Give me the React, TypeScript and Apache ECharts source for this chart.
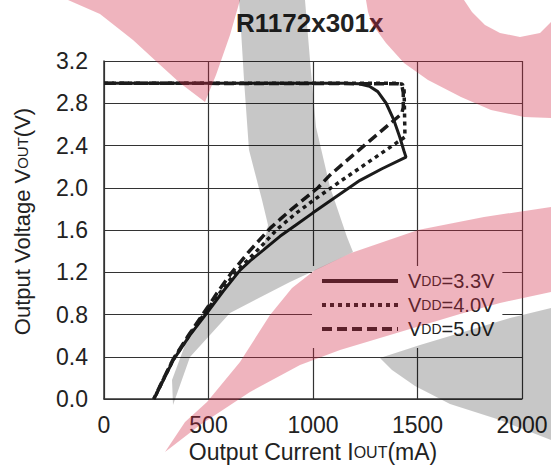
import React, { useEffect, useRef } from 'react';
import * as echarts from 'echarts';

const FONT = '"Liberation Sans", Arial, Helvetica, sans-serif';

const chartTitle = 'R1172x301x';
const xTickValues = [0, 500, 1000, 1500, 2000];
const yTickValues = [0, 0.4, 0.8, 1.2, 1.6, 2.0, 2.4, 2.8, 3.2];
const seriesNames = ['VDD=3.3V', 'VDD=4.0V', 'VDD=5.0V'];

// VDD = 3.3V (solid)
const current33 = [0, 1150, 1220, 1270, 1310, 1350, 1385, 1415, 1435, 1445, 1330, 1225, 1100, 998, 920, 842, 762, 700, 651, 570, 491, 411, 332, 284, 250, 238];
const volt33 = [2.99, 2.99, 2.985, 2.96, 2.91, 2.8, 2.65, 2.48, 2.35, 2.29, 2.18, 2.07, 1.9, 1.76, 1.65, 1.54, 1.41, 1.31, 1.22, 1.02, 0.81, 0.605, 0.37, 0.18, 0.045, 0];

// VDD = 4.0V (dotted)
const current40 = [0, 1400, 1428, 1436, 1438, 1440, 1300, 1145, 1015, 920, 830, 740, 630, 560, 500, 410, 332, 284, 250, 238];
const volt40 = [2.99, 2.99, 2.98, 2.92, 2.7, 2.48, 2.29, 2.08, 1.9, 1.76, 1.61, 1.42, 1.2, 1.02, 0.86, 0.61, 0.375, 0.185, 0.045, 0];

// VDD = 5.0V (dashed)
const current50 = [0, 1405, 1425, 1432, 1432, 1424, 1257, 1081, 1024, 900, 842, 797, 700, 612, 550, 500, 410, 332, 284, 250, 238];
const volt50 = [2.99, 2.985, 2.97, 2.9, 2.76, 2.7, 2.42, 2.12, 2.0, 1.8, 1.7, 1.62, 1.41, 1.2, 1.03, 0.88, 0.62, 0.38, 0.19, 0.05, 0];

const pair = (xs: number[], ys: number[]) => xs.map((x, i) => [x, ys[i]]);

const PINK = 'rgba(210,40,70,0.35)';
const GRAY = 'rgba(0,0,0,0.22)';

const watermark = [
  { fill: PINK, points: [[68, 0], [240, 0], [230, 35], [216, 75], [205, 102], [180, 83], [158, 63], [133, 40], [100, 14]] },
  { fill: PINK, points: [[366, 0], [464, 0], [472, 12], [485, 25], [500, 33], [520, 37], [540, 33], [551, 22], [551, 118], [524, 117], [491, 110], [461, 97], [428, 80], [404, 63], [386, 43], [372, 24], [368, 12]] },
  { fill: PINK, points: [[165, 452], [185, 422], [207, 402], [240, 362], [270, 315], [292, 288], [315, 270], [351, 253], [418, 230], [484, 217], [551, 207], [551, 292], [500, 303], [460, 314], [420, 326], [380, 338], [340, 350], [300, 365], [250, 392], [200, 425]] },
  { fill: GRAY, points: [[380, 358], [420, 345], [460, 333], [510, 318], [551, 308], [551, 440], [500, 420], [450, 404], [415, 386], [392, 370]] },
  { fill: GRAY, points: [[239, 0], [305, 0], [310, 60], [316, 127], [330, 187], [347, 237], [353, 252], [320, 268], [290, 282], [230, 313], [190, 357], [173, 405], [172, 380], [185, 345], [200, 317], [240, 270], [263, 250], [268, 225], [262, 200], [249, 150], [244, 80], [241, 30]] },
];

export default function App() {
  const ref = useRef<HTMLDivElement>(null);
  useEffect(() => {
    if (!ref.current) return;
    const chart = echarts.init(ref.current, undefined, { renderer: 'svg' });
    const axisLabelStyle = { color: '#222', fontFamily: FONT, fontSize: 23 };
    const richX = {
      m: { fontSize: 23, fontFamily: FONT, color: '#222' },
      s: { fontSize: 16, fontFamily: FONT, color: '#222' },
    };
    const richY = {
      m: { fontSize: 22, fontFamily: FONT, color: '#222' },
      s: { fontSize: 15, fontFamily: FONT, color: '#222' },
    };
    chart.setOption({
      animation: false,
      backgroundColor: '#ffffff',
      title: {
        text: chartTitle,
        left: 236,
        top: 10,
        padding: 0,
        textStyle: { fontFamily: FONT, fontSize: 26, fontWeight: 'bold', color: '#222' },
      },
      grid: { left: 104, right: 29, top: 61, bottom: 71, containLabel: false },
      legend: {
        orient: 'vertical',
        left: 312,
        top: 266,
        padding: [5, 8, 9, 8],
        backgroundColor: '#ffffff',
        itemWidth: 76,
        itemHeight: 12,
        itemGap: 4,
        itemStyle: { opacity: 0 },
        lineStyle: { width: 4 },
        data: seriesNames,
        formatter: (n: string) => `{a|V}{s|DD}{v|=${n.split('=')[1]}}`,
        textStyle: {
          color: '#222',
          fontFamily: FONT,
          fontSize: 20,
          rich: {
            a: { fontSize: 20, fontFamily: FONT, color: '#222', padding: [0, 0, 0, 5] },
            s: { fontSize: 14, fontFamily: FONT, color: '#222' },
            v: { fontSize: 20, fontFamily: FONT, color: '#222' },
          },
        },
      },
      xAxis: {
        type: 'value',
        min: xTickValues[0],
        max: xTickValues[xTickValues.length - 1],
        interval: 500,
        name: '{m|Output Current I}{s|OUT}{m|(mA)}',
        nameLocation: 'middle',
        nameGap: 37,
        nameTextStyle: { rich: richX },
        axisLine: { show: true, lineStyle: { color: '#333', width: 1.5 } },
        axisTick: { show: false },
        axisLabel: { ...axisLabelStyle, margin: 14, formatter: (v: number) => String(v) },
        splitLine: { show: true, lineStyle: { color: '#333', width: 1.2 } },
      },
      yAxis: {
        type: 'value',
        min: yTickValues[0],
        max: yTickValues[yTickValues.length - 1],
        interval: 0.4,
        name: '{m|Output Voltage V}{s|OUT}{m|(V)}',
        nameLocation: 'middle',
        nameGap: 71,
        nameTextStyle: { rich: richY, padding: [0, 0, 0, 17] },
        axisLine: { show: true, lineStyle: { color: '#333', width: 1.5 } },
        axisTick: { show: false },
        axisLabel: { ...axisLabelStyle, margin: 16, formatter: (v: number) => v.toFixed(1) },
        splitLine: { show: true, lineStyle: { color: '#333', width: 1.2 } },
      },
      series: [
        {
          name: seriesNames[0], type: 'line', symbol: 'none', z: 5,
          data: pair(current33, volt33),
          lineStyle: { color: '#1c1c1c', width: 3, type: 'solid' },
          itemStyle: { color: '#1c1c1c' },
        },
        {
          name: seriesNames[1], type: 'line', symbol: 'none', z: 4,
          data: pair(current40, volt40),
          lineStyle: { color: '#1c1c1c', width: 3.5, type: [4, 4] },
          itemStyle: { color: '#1c1c1c' },
        },
        {
          name: seriesNames[2], type: 'line', symbol: 'none', z: 3,
          data: pair(current50, volt50),
          lineStyle: { color: '#1c1c1c', width: 3.5, type: [10, 5] },
          itemStyle: { color: '#1c1c1c' },
        },
      ],
      graphic: watermark.map((w) => ({
        type: 'polygon',
        silent: true,
        zlevel: 1,
        z: 100,
        shape: { points: w.points },
        style: { fill: w.fill },
      })),
    });
    return () => chart.dispose();
  }, []);
  return <div ref={ref} style={{ position: 'fixed', left: 0, top: 0, width: 551, height: 470 }} />;
}
